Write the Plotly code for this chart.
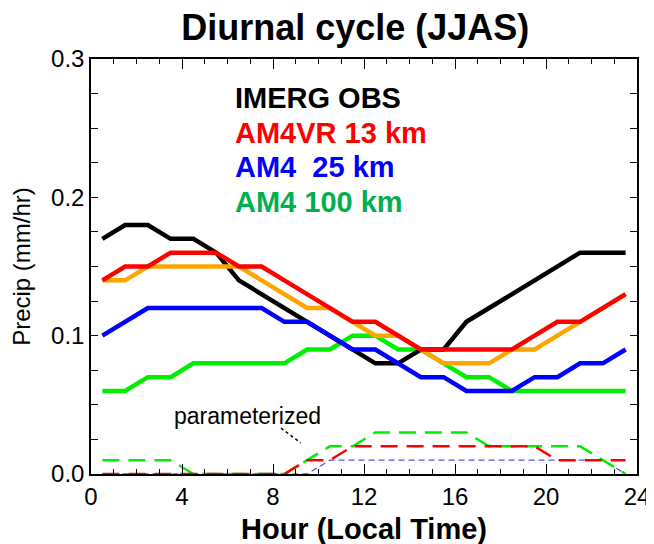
import plotly.graph_objects as go

hours = [0.5, 1.5, 2.5, 3.5, 4.5, 5.5, 6.5, 7.5, 8.5, 9.5, 10.5, 11.5,
         12.5, 13.5, 14.5, 15.5, 16.5, 17.5, 18.5, 19.5, 20.5, 21.5, 22.5, 23.5]

imerg = [0.17, 0.18, 0.18, 0.17, 0.17, 0.16, 0.14, 0.13, 0.12, 0.11, 0.10, 0.09,
         0.08, 0.08, 0.09, 0.09, 0.11, 0.12, 0.13, 0.14, 0.15, 0.16, 0.16, 0.16]
orange = [0.14, 0.14, 0.15, 0.15, 0.15, 0.15, 0.15, 0.14, 0.13, 0.12, 0.12, 0.11,
          0.10, 0.10, 0.09, 0.08, 0.08, 0.08, 0.09, 0.09, 0.10, 0.11, 0.12, 0.13]
am4vr13 = [0.14, 0.15, 0.15, 0.16, 0.16, 0.16, 0.15, 0.15, 0.14, 0.13, 0.12, 0.11,
           0.11, 0.10, 0.09, 0.09, 0.09, 0.09, 0.09, 0.10, 0.11, 0.11, 0.12, 0.13]
am4_25 = [0.10, 0.11, 0.12, 0.12, 0.12, 0.12, 0.12, 0.12, 0.11, 0.11, 0.10, 0.09,
          0.09, 0.08, 0.07, 0.07, 0.06, 0.06, 0.06, 0.07, 0.07, 0.08, 0.08, 0.09]
am4_100 = [0.06, 0.06, 0.07, 0.07, 0.08, 0.08, 0.08, 0.08, 0.08, 0.09, 0.09, 0.10,
           0.10, 0.09, 0.09, 0.08, 0.07, 0.07, 0.06, 0.06, 0.06, 0.06, 0.06, 0.06]

param_100 = [0.01, 0.01, 0.01, 0.01, 0.0, 0.0, 0.0, 0.0, 0.0, 0.01, 0.02, 0.02,
             0.03, 0.03, 0.03, 0.03, 0.03, 0.02, 0.02, 0.02, 0.02, 0.02, 0.01, 0.0]
param_13 = [0.0, 0.0, 0.0, 0.0, 0.0, 0.0, 0.0, 0.0, 0.0, 0.01, 0.01, 0.02,
            0.02, 0.02, 0.02, 0.02, 0.02, 0.02, 0.02, 0.02, 0.01, 0.01, 0.01, 0.01]
param_25 = [0.0, 0.0, 0.0, 0.0, 0.0, 0.0, 0.0, 0.0, 0.0, 0.0, 0.01, 0.01,
            0.01, 0.01, 0.01, 0.01, 0.01, 0.01, 0.01, 0.01, 0.01, 0.01, 0.01, 0.0]

x_ticks = [0, 4, 8, 12, 16, 20, 24]
y_ticks = [0.0, 0.1, 0.2, 0.3]

legend_labels = ["IMERG OBS", "AM4VR 13 km", "AM4  25 km", "AM4 100 km"]
legend_colors = ["#000000", "#ff0000", "#0000ff", "#00b050"]

FONT = "Liberation Sans, Arial, Helvetica"

fig = go.Figure()

# dashed parameterized lines
fig.add_trace(go.Scatter(x=hours, y=param_25, mode="lines",
                         line=dict(color="#5555dd", width=1.3, dash="6px,4px")))
fig.add_trace(go.Scatter(x=hours, y=param_100, mode="lines",
                         line=dict(color="#00ee00", width=2.5, dash="17px,9px")))
fig.add_trace(go.Scatter(x=hours, y=param_13, mode="lines",
                         line=dict(color="#ff0000", width=2.5, dash="17px,9px")))

# solid lines
fig.add_trace(go.Scatter(x=hours, y=am4_100, mode="lines",
                         line=dict(color="#00ee00", width=4.5)))
fig.add_trace(go.Scatter(x=hours, y=imerg, mode="lines",
                         line=dict(color="#000000", width=4.5)))
fig.add_trace(go.Scatter(x=hours, y=orange, mode="lines",
                         line=dict(color="#ffa500", width=4.5)))
fig.add_trace(go.Scatter(x=hours, y=am4_25, mode="lines",
                         line=dict(color="#0000ff", width=4.5)))
fig.add_trace(go.Scatter(x=hours, y=am4vr13, mode="lines",
                         line=dict(color="#ff0000", width=4.5)))

# dotted pointer for "parameterized"
fig.add_trace(go.Scatter(x=[8.35, 9.22], y=[0.0332, 0.0224], mode="lines",
                         line=dict(color="#000000", width=1.5, dash="dot")))

legend_y = [0.2718, 0.2466, 0.2221, 0.1969]
for lab, col, yy in zip(legend_labels, legend_colors, legend_y):
    fig.add_annotation(x=6.22, y=yy, xref="x", yref="y", text="<b>" + lab + "</b>",
                       showarrow=False, xanchor="left", yanchor="middle",
                       font=dict(family=FONT, size=29, color=col))

fig.add_annotation(x=6.89, y=0.042, xref="x", yref="y", text="parameterized",
                   showarrow=False, xanchor="center", yanchor="middle",
                   font=dict(family=FONT, size=23, color="#000000"))

axis_common = dict(showline=True, linecolor="black", linewidth=1.5, mirror="allticks",
                   ticks="inside", tickcolor="black", showgrid=False,
                   zeroline=False,
                   tickfont=dict(family=FONT, size=24, color="black"))

fig.update_xaxes(range=[0, 24], tickvals=x_ticks, ticklen=10,
                 minor=dict(dtick=1, ticks="inside", ticklen=5, tickcolor="black"),
                 title=dict(text="<b>Hour (Local Time)</b>", standoff=10,
                            font=dict(family=FONT, size=29, color="black")),
                 **axis_common)
fig.update_yaxes(range=[0, 0.3], tickvals=y_ticks, tickformat=".1f", ticklen=7,
                 minor=dict(dtick=0.025, ticks="inside", ticklen=7, tickcolor="black"),
                 title=dict(text="Precip (mm/hr)", standoff=14,
                            font=dict(family=FONT, size=24, color="black")),
                 **axis_common)

fig.update_layout(
    width=654, height=544,
    margin=dict(l=80, r=22, t=51, b=77),
    plot_bgcolor="white", paper_bgcolor="white",
    showlegend=False,
    title=dict(text="<b>Diurnal cycle (JJAS)</b>", x=0.531, xanchor="center",
               y=0.964, yanchor="middle",
               font=dict(family=FONT, size=36, color="black")),
)

fig.write_html("out.html")
